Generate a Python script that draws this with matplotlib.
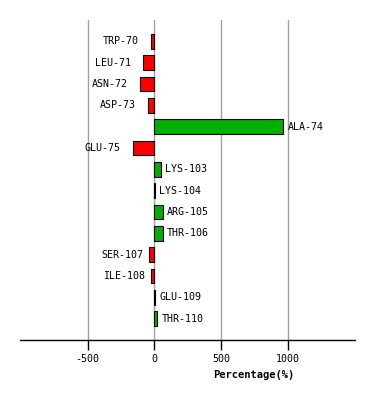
import matplotlib
matplotlib.use("Agg")
import matplotlib.pyplot as plt

residues = ["TRP-70", "LEU-71", "ASN-72", "ASP-73", "ALA-74", "GLU-75", "LYS-103",
            "LYS-104", "ARG-105", "THR-106", "SER-107", "ILE-108", "GLU-109", "THR-110"]
values = [-25, -83, -106, -46, 967, -160, 52, 3, 66, 65, -39, -25, 8, 22]
ticks = [-500, 0, 500, 1000]

fig = plt.figure(figsize=(3.74, 4.0), dpi=100)
ax = fig.add_axes([20/374, 60/400, 335/374, 320/400])

ypos = list(range(len(residues)))
colors = ["#00b000" if v > 0 else "#ff0000" for v in values]
ax.barh(ypos, values, height=0.7, color=colors, edgecolor="black", linewidth=0.8, zorder=3)

font = dict(family="DejaVu Sans Mono", size=7.2)
for y, v, name in zip(ypos, values, residues):
    if v >= 0:
        ax.annotate(name, (v, y), xytext=(3, 0), textcoords="offset points",
                    ha="left", va="center", **font)
    else:
        gap_px = 6 + 6 * (7 - len(name))
        ax.annotate(name, (v, y), xytext=(-gap_px * 0.72, 0), textcoords="offset points",
                    ha="right", va="center", **font)

ax.set_xlim(-1007, 1505)
ax.set_ylim(14, -1)
ax.set_xticks(ticks)
ax.set_xticklabels([str(t) for t in ticks], **font)
ax.set_yticks([])
ax.grid(axis="x", color="#a0a0a0", linewidth=1, zorder=0)
for s in ["top", "left", "right"]:
    ax.spines[s].set_visible(False)
ax.spines["bottom"].set_linewidth(1)
ax.tick_params(axis="x", length=7, width=1, pad=3)

fig.text(254/374, 1 - 375/400, "Percentage(%)", ha="center", va="center",
         family="DejaVu Sans Mono", size=7.5, weight="bold")

fig.savefig("out.png", dpi=100)
